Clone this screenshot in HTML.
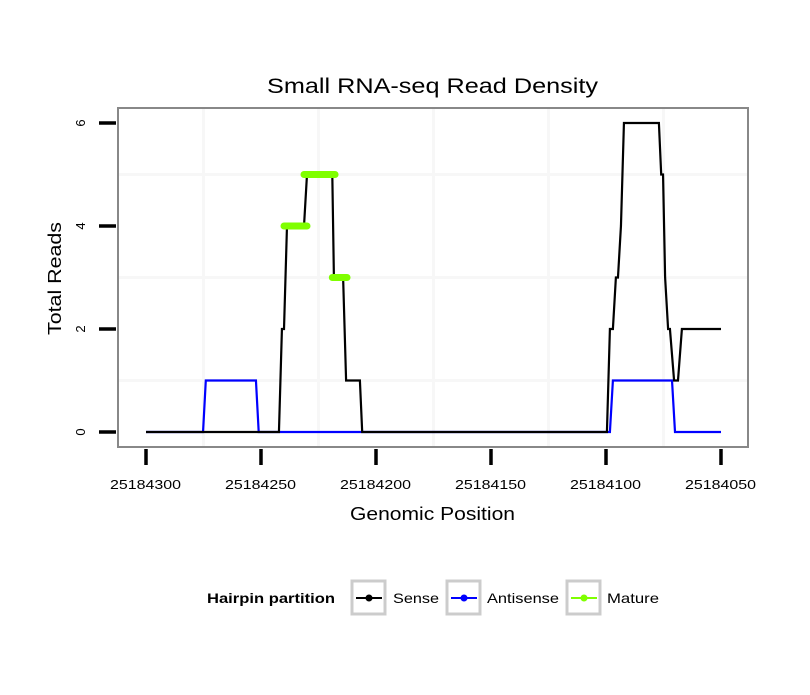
<!DOCTYPE html>
<html><head><meta charset="utf-8"><style>
body{margin:0;background:#fff;}
svg text{font-family:"Liberation Sans",sans-serif;}
</style></head><body>
<svg id="chart" width="810" height="690" viewBox="0 0 810 690" xmlns="http://www.w3.org/2000/svg">
<rect width="810" height="690" fill="#fff"/>
<text x="267" y="93" font-size="21" textLength="331" lengthAdjust="spacingAndGlyphs">Small RNA-seq Read Density</text>
<g id="grid"></g>
<g id="series"></g>
<rect x="118" y="108" width="630" height="339" fill="none" stroke="#888" stroke-width="2"/>
<g id="axes"></g>
<text x="350" y="520" font-size="18" textLength="165" lengthAdjust="spacingAndGlyphs">Genomic Position</text>
<text transform="translate(61,335) rotate(-90)" font-size="18" textLength="113" lengthAdjust="spacingAndGlyphs">Total Reads</text>
<g>
<text x="207" y="603" font-size="14" font-weight="bold" textLength="128" lengthAdjust="spacingAndGlyphs">Hairpin partition</text>
<g>
<rect x="352" y="581" width="33" height="33" fill="#fff" stroke="#ccc" stroke-width="3"/>
<line x1="356" y1="598" x2="382" y2="598" stroke="#000" stroke-width="2"/><circle cx="369" cy="598" r="3.5" fill="#000"/>
<text x="393" y="603" font-size="14" textLength="46" lengthAdjust="spacingAndGlyphs">Sense</text></g>
<g>
<rect x="447" y="581" width="33" height="33" fill="#fff" stroke="#ccc" stroke-width="3"/>
<line x1="451" y1="598" x2="477" y2="598" stroke="#00f" stroke-width="2"/><circle cx="464" cy="598" r="3.5" fill="#00f"/>
<text x="487" y="603" font-size="14" textLength="72" lengthAdjust="spacingAndGlyphs">Antisense</text></g>
<g>
<rect x="567" y="581" width="33" height="33" fill="#fff" stroke="#ccc" stroke-width="3"/>
<line x1="571" y1="598" x2="597" y2="598" stroke="#7fff00" stroke-width="2"/><circle cx="584" cy="598" r="3.5" fill="#7fff00"/>
<text x="607" y="603" font-size="14" textLength="52" lengthAdjust="spacingAndGlyphs">Mature</text></g>
</g>
</svg>
<script>
// positions are offsets from 25184000
const senseX=[300,242.2,240.9,240,238.7,231.3,230,219,218.3,214.3,213,207,206,99.6,98.3,97,95.7,94.8,93.5,92.2,77,76,75.2,74.3,73,72.2,70.4,68.7,67,50];
const senseY=[0,0,2,2,4,4,5,5,3,3,1,1,0,0,2,2,3,3,4,6,6,5,5,3,2,2,1,1,2,2];
const antiX=[300,275.2,274,252.2,251,98.3,97,71.3,70,50];
const antiY=[0,0,1,1,0,0,1,1,0,0];
const matureStart=[240,231.3,219];
const matureEnd=[230,217.8,212.6];
const matureY=[4,5,3];
const xTicks=[300,250,200,150,100,50];
const yTicks=[0,2,4,6];
const BASE=25184000;
const sx=p=>146+(300-p)*2.3;
const sy=v=>432-v*51.5;
const NS="http://www.w3.org/2000/svg";
function mk(tag,attrs,parent){const e=document.createElementNS(NS,tag);for(const k in attrs)e.setAttribute(k,attrs[k]);parent.appendChild(e);return e;}
const grid=document.getElementById('grid'),series=document.getElementById('series'),axes=document.getElementById('axes');
for(let i=0;i<xTicks.length-1;i++){
 const g=mk('line',{x1:sx((xTicks[i]+xTicks[i+1])/2),x2:sx((xTicks[i]+xTicks[i+1])/2),y1:109,y2:446,stroke:'#f7f7f7','stroke-width':3},grid);
 
 
}
for(let i=0;i<yTicks.length-1;i++){
 const g=mk('line',{x1:119,x2:747,y1:sy((yTicks[i]+yTicks[i+1])/2),y2:sy((yTicks[i]+yTicks[i+1])/2),stroke:'#f7f7f7','stroke-width':3},grid);
 
 
}
const ap=mk('polyline',{points:antiX.map((x,i)=>sx(x)+','+sy(antiY[i])).join(' '),fill:'none',stroke:'#00f','stroke-width':2.2},series);


const sp=mk('polyline',{points:senseX.map((x,i)=>sx(x)+','+sy(senseY[i])).join(' '),fill:'none',stroke:'#000','stroke-width':2.2},series);


matureY.forEach((v,i)=>{
 const m=mk('line',{x1:sx(matureStart[i]),x2:sx(matureEnd[i]),y1:sy(v),y2:sy(v),stroke:'#7fff00','stroke-width':7,'stroke-linecap':'round'},series);
 
 
});
xTicks.forEach(t=>{
 const l=mk('line',{x1:sx(t),x2:sx(t),y1:449,y2:465,stroke:'#000','stroke-width':3.5},axes);
 
 
 const tx=mk('text',{x:sx(t)-36,y:489,'font-size':13,textLength:71,lengthAdjust:'spacingAndGlyphs'},axes);
 tx.textContent=String(BASE+t);
 
 
});
yTicks.forEach(t=>{
 const l=mk('line',{x1:99,x2:116,y1:sy(t),y2:sy(t),stroke:'#000','stroke-width':3.5},axes);
 
 
 const tx=mk('text',{transform:'translate(85,'+sy(t)+') rotate(-90)','font-size':13,'text-anchor':'middle'},axes);
 tx.textContent=String(t);
 
 
});
</script>
</body></html>
